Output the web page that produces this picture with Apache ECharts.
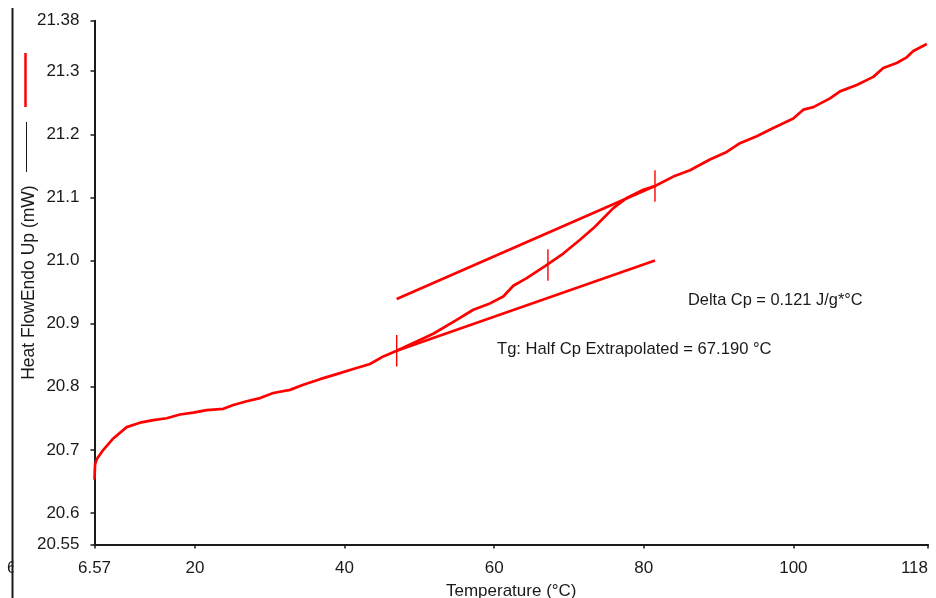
<!DOCTYPE html>
<html>
<head>
<meta charset="utf-8">
<script src="https://cdn.jsdelivr.net/npm/echarts@6/dist/echarts.min.js"></script>
<style>
  html, body { margin: 0; padding: 0; background: #fff; }
  #chart { width: 936px; height: 598px; }
</style>
</head>
<body>
<div id="chart"></div>
<script>
// DSC heating scan: temperature (°C) vs heat flow, endo up (mW)
const temps = [6.57, 6.64, 6.86, 7.75, 9.08, 10.87, 12.65, 14.43, 16.22, 18.00,
  19.78, 21.57, 23.79, 25.13, 26.92, 28.70, 30.47, 32.71, 34.48, 36.72,
  38.95, 41.17, 43.40, 45.18, 46.97, 51.86, 54.99, 57.21, 59.44, 61.22,
  62.56, 64.35, 66.80, 69.24, 71.48, 73.25, 74.59, 75.93, 77.72, 79.94,
  81.50, 83.95, 86.18, 88.85, 91.09, 92.86, 95.10, 97.32, 99.99, 101.33,
  102.67, 104.90, 106.24, 108.47, 110.69, 112.02, 113.82, 115.15, 116.04, 117.83];
const heatFlow = [20.653, 20.676, 20.685, 20.700, 20.718, 20.736, 20.743, 20.747, 20.750, 20.756,
  20.759, 20.763, 20.765, 20.771, 20.777, 20.782, 20.790, 20.795, 20.803, 20.812,
  20.820, 20.828, 20.836, 20.848, 20.857, 20.884, 20.906, 20.922, 20.932, 20.943,
  20.960, 20.972, 20.991, 21.011, 21.033, 21.051, 21.067, 21.083, 21.099, 21.112,
  21.118, 21.133, 21.143, 21.160, 21.172, 21.186, 21.197, 21.210, 21.225, 21.239,
  21.243, 21.257, 21.268, 21.278, 21.291, 21.305, 21.313, 21.322, 21.332, 21.343];

// Glass transition construction: baseline tangents (start/end temperature and heat flow)
const tangentT = [46.97, 81.50];
const upperTangent = [20.939, 21.118];
const lowerTangent = [20.857, 21.000];

// Onset, half-Cp (Tg) and end markers: temperature, bottom and top of each tick
const markerT = [46.97, 67.19, 81.50];
const markerLow = [20.832, 20.968, 21.093];
const markerHigh = [20.882, 21.018, 21.143];

// Axis ticks
const xTicks = [6.57, 20, 40, 60, 80, 100, 118];
const xTickLabels = ['6.57', '20', '40', '60', '80', '100', '118'];
const yTicks = [20.55, 20.6, 20.7, 20.8, 20.9, 21.0, 21.1, 21.2, 21.3, 21.38];
const yTickLabels = ['20.55', '20.6', '20.7', '20.8', '20.9', '21.0', '21.1', '21.2', '21.3', '21.38'];

const annotations = ['Delta Cp = 0.121 J/g*\u00B0C', 'Tg: Half Cp Extrapolated = 67.190 \u00B0C'];

const RED = '#ff0000';
const INK = '#1a1a1a';
const FONT = 'Liberation Sans, Arial, sans-serif';

function labelFor(ticks, labels) {
  return function (v) {
    let best = 0;
    for (let i = 1; i < ticks.length; i++) {
      if (Math.abs(ticks[i] - v) < Math.abs(ticks[best] - v)) best = i;
    }
    return labels[best];
  };
}

const series = [{
  type: 'line',
  data: temps.map((t, i) => [t, heatFlow[i]]),
  showSymbol: false,
  lineStyle: { color: RED, width: 2.7 },
  z: 3
}, {
  type: 'line',
  data: tangentT.map((t, i) => [t, upperTangent[i]]),
  showSymbol: false,
  lineStyle: { color: RED, width: 2.7 }
}, {
  type: 'line',
  data: tangentT.map((t, i) => [t, lowerTangent[i]]),
  showSymbol: false,
  lineStyle: { color: RED, width: 2.7 }
}];
markerT.forEach((t, i) => {
  series.push({
    type: 'line',
    data: [[t, markerLow[i]], [t, markerHigh[i]]],
    showSymbol: false,
    lineStyle: { color: RED, width: 1.4 },
    z: 4
  });
});

const chart = echarts.init(document.getElementById('chart'), null, { renderer: 'canvas' });
chart.setOption({
  animation: false,
  backgroundColor: '#ffffff',
  grid: { left: 94.5, right: 8, top: 20.7, bottom: 53.5, containLabel: false, outerBoundsMode: 'none' },
  xAxis: {
    type: 'value',
    min: xTicks[0],
    max: xTicks[xTicks.length - 1],
    name: 'Temperature (\u00B0C)',
    nameLocation: 'middle',
    nameGap: 38,
    nameMoveOverlap: false,
    nameTextStyle: { color: INK, fontFamily: FONT, fontSize: 17 },
    axisLine: { show: true, onZero: false, lineStyle: { color: INK, width: 2 } },
    axisTick: { show: true, customValues: xTicks, length: 4, lineStyle: { color: INK, width: 1.5 } },
    axisLabel: {
      customValues: xTicks, formatter: labelFor(xTicks, xTickLabels),
      color: INK, fontFamily: FONT, fontSize: 17, margin: 15,
      alignMaxLabel: 'right'
    },
    splitLine: { show: false }
  },
  yAxis: {
    type: 'value',
    min: yTicks[0],
    max: yTicks[yTicks.length - 1],
    name: 'Heat FlowEndo Up (mW)',
    nameLocation: 'middle',
    nameGap: 56,
    nameMoveOverlap: false,
    nameRotate: 90,
    nameTextStyle: { color: INK, fontFamily: FONT, fontSize: 17.5 },
    axisLine: { show: true, onZero: false, lineStyle: { color: INK, width: 2 } },
    axisTick: { show: true, customValues: yTicks, length: 4, lineStyle: { color: INK, width: 1.5 } },
    axisLabel: {
      customValues: yTicks, formatter: labelFor(yTicks, yTickLabels),
      color: INK, fontFamily: FONT, fontSize: 17, margin: 15
    },
    splitLine: { show: false }
  },
  series: series,
  graphic: [
    // frame line on the left edge, with the clipped stray digit beside it
    { type: 'text', left: 7, top: 560, z: 10,
      style: { text: '6', fill: INK, font: '17px ' + FONT } },
    { type: 'rect', shape: { x: 13.5, y: 555, width: 8, height: 30 }, z: 11,
      style: { fill: '#ffffff' } },
    { type: 'line', shape: { x1: 12.5, y1: 8, x2: 12.5, y2: 598 }, z: 12,
      style: { stroke: INK, lineWidth: 2 } },
    // legend swatches
    { type: 'line', shape: { x1: 25.5, y1: 53, x2: 25.5, y2: 107 }, z: 12,
      style: { stroke: RED, lineWidth: 2.5 } },
    { type: 'line', shape: { x1: 26.5, y1: 122, x2: 26.5, y2: 172 }, z: 12,
      style: { stroke: INK, lineWidth: 1 } },
    // analysis results
    { type: 'text', left: 688, top: 292, z: 10,
      style: { text: annotations[0], fill: INK, font: '16.4px ' + FONT } },
    { type: 'text', left: 497, top: 341, z: 10,
      style: { text: annotations[1], fill: INK, font: '16.6px ' + FONT } }
  ]
});
</script>
</body>
</html>
